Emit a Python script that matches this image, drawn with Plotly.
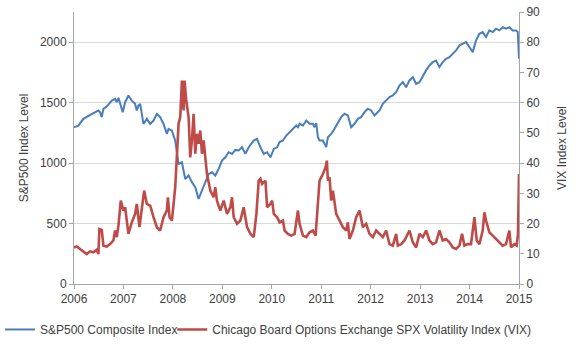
import plotly.graph_objects as go

# ---- data (decimal years as placed on the chart's time axis) ----
sp_years = [2006.000, 2006.088, 2006.189, 2006.291, 2006.392, 2006.493, 2006.527, 2006.561, 2006.595,
            2006.662, 2006.764, 2006.831, 2006.865, 2006.899, 2006.966, 2006.986, 2007.034, 2007.101,
            2007.169, 2007.236, 2007.270, 2007.304, 2007.338, 2007.405, 2007.473, 2007.541, 2007.608,
            2007.676, 2007.743, 2007.811, 2007.878, 2007.912, 2007.980, 2008.047, 2008.115, 2008.182,
            2008.250, 2008.318, 2008.385, 2008.453, 2008.520, 2008.588, 2008.655, 2008.723, 2008.791,
            2008.858, 2008.926, 2008.993, 2009.061, 2009.128, 2009.196, 2009.264, 2009.331, 2009.399,
            2009.466, 2009.534, 2009.635, 2009.703, 2009.770, 2009.838, 2009.905, 2009.973, 2010.041,
            2010.108,
            2010.158, 2010.226, 2010.293, 2010.360, 2010.428, 2010.495, 2010.529, 2010.562, 2010.630,
            2010.697, 2010.764, 2010.832, 2010.865, 2010.899, 2010.933, 2010.966, 2011.034, 2011.101,
            2011.135, 2011.202, 2011.269, 2011.337, 2011.404, 2011.471, 2011.539, 2011.606, 2011.673,
            2011.741, 2011.808, 2011.875, 2011.943, 2012.010, 2012.077, 2012.111, 2012.178, 2012.246,
            2012.313, 2012.380, 2012.448, 2012.515, 2012.582, 2012.650, 2012.717, 2012.785, 2012.852,
            2012.919, 2012.987, 2013.054, 2013.121, 2013.189, 2013.256, 2013.323, 2013.391, 2013.458,
            2013.525, 2013.593, 2013.660, 2013.727, 2013.795, 2013.862, 2013.929, 2013.997, 2014.064,
            2014.131, 2014.199, 2014.266, 2014.333, 2014.401, 2014.468, 2014.535, 2014.603, 2014.670,
            2014.737, 2014.805, 2014.872, 2014.939, 2014.975, 2015.000]
sp500 = [1297, 1310, 1366, 1393, 1413, 1435, 1421, 1380, 1449,
         1468, 1517, 1531, 1504, 1540, 1462, 1421, 1504, 1559,
         1517, 1490, 1435, 1476, 1490, 1324, 1366, 1324, 1352,
         1407, 1380, 1324, 1242, 1283, 1269, 1186, 993, 1007,
         869, 897, 842, 800, 704, 773, 828, 910, 924,
         897, 952, 1021, 1048, 1090, 1076, 1109, 1104, 1131,
         1076, 1131, 1186, 1200, 1131, 1076, 1090, 1048, 1117,
         1131,
         1174, 1187, 1228, 1256, 1284, 1311, 1297, 1325, 1311,
         1352, 1325, 1325, 1297, 1330, 1214, 1187, 1187, 1132,
         1214, 1242, 1284, 1339, 1380, 1408, 1394, 1297, 1325,
         1366, 1380, 1422, 1450, 1436, 1394, 1408, 1436, 1491,
         1518, 1546, 1560, 1587, 1642, 1670, 1628, 1684, 1711,
         1656, 1670, 1725, 1767, 1808, 1835, 1849, 1794, 1835,
         1863, 1877, 1905, 1932, 1974, 1988, 2001, 1960, 1918,
         2015, 2070, 2084, 2043, 2098, 2084, 2112, 2098, 2125,
         2112, 2125, 2098, 2098, 2084, 1863]

vix_years = [2006.000, 2006.054, 2006.122, 2006.189, 2006.257, 2006.324, 2006.392, 2006.459, 2006.493,
             2006.514, 2006.561, 2006.595, 2006.662, 2006.730, 2006.797, 2006.831, 2006.865, 2006.899,
             2006.946, 2007.000, 2007.034, 2007.101, 2007.169, 2007.236, 2007.270, 2007.324, 2007.372,
             2007.419, 2007.473, 2007.541, 2007.608, 2007.676, 2007.743, 2007.811, 2007.878, 2007.899,
             2007.932, 2007.980, 2008.047, 2008.081, 2008.115, 2008.149, 2008.182, 2008.216, 2008.236,
             2008.270, 2008.318, 2008.351, 2008.385, 2008.419, 2008.453, 2008.486, 2008.520, 2008.554,
             2008.588, 2008.622, 2008.689, 2008.757, 2008.824, 2008.858, 2008.892, 2008.959, 2009.027,
             2009.095, 2009.162, 2009.196, 2009.230, 2009.297, 2009.365, 2009.432, 2009.500, 2009.568,
             2009.635, 2009.689, 2009.736, 2009.770, 2009.804, 2009.872, 2009.905, 2009.973, 2010.007,
             2010.041, 2010.108,
             2010.158, 2010.226, 2010.259, 2010.327, 2010.394, 2010.461, 2010.529, 2010.562, 2010.630,
             2010.697, 2010.764, 2010.832, 2010.886, 2010.933, 2010.966, 2011.034, 2011.088, 2011.114,
             2011.135, 2011.168, 2011.202, 2011.236, 2011.303, 2011.370, 2011.438, 2011.505, 2011.539,
             2011.572, 2011.640, 2011.707, 2011.774, 2011.842, 2011.909, 2011.976, 2012.044, 2012.111,
             2012.178, 2012.246, 2012.313, 2012.380, 2012.448, 2012.515, 2012.549, 2012.616, 2012.684,
             2012.785, 2012.852, 2012.919, 2012.987, 2013.054, 2013.121, 2013.189, 2013.256, 2013.323,
             2013.391, 2013.458, 2013.525, 2013.593, 2013.660, 2013.727, 2013.795, 2013.848, 2013.896,
             2013.963, 2014.030, 2014.098, 2014.145, 2014.199, 2014.266, 2014.300, 2014.333, 2014.401,
             2014.468, 2014.535, 2014.603, 2014.670, 2014.737, 2014.805, 2014.838, 2014.906, 2014.953,
             2014.980, 2015.000]
vix = [12.1, 12.4, 11.6, 10.8, 9.9, 10.8, 10.5, 11.3, 9.9,
       18.2, 17.9, 12.7, 12.4, 13.2, 14.4, 17.7, 15.5, 19.3,
       27.6, 24.3, 25.4, 16.6, 20.4, 23.2, 26.5, 18.8, 24.3,
       30.9, 26.5, 25.9, 22.1, 18.8, 17.7, 22.1, 24.3, 28.7,
       22.1, 21.0, 32.0, 44.2, 53.0, 55.2, 67.3, 57.4, 67.3,
       60.7, 55.2, 41.9, 47.5, 56.3, 43.1, 49.7, 46.4, 50.8,
       43.1, 47.5, 36.4, 30.9, 28.7, 32.0, 27.6, 24.3, 27.6,
       23.2, 25.4, 28.7, 22.1, 19.9, 21.0, 25.4, 18.8, 16.6,
       15.5, 23.2, 34.2, 34.8, 33.1, 34.2, 25.4, 26.5, 27.6,
       23.2, 22.1,
       20.4, 21.0, 17.7, 16.6, 16.0, 16.6, 24.3, 19.9, 16.0,
       15.5, 17.1, 17.7, 16.0, 27.6, 34.2, 36.4, 38.6, 40.8,
       34.2, 35.3, 27.6, 30.9, 23.2, 21.0, 18.8, 17.7, 20.4,
       14.9, 17.7, 22.1, 24.3, 18.8, 19.9, 16.6, 15.5, 17.7,
       16.6, 15.5, 17.7, 13.2, 12.7, 16.6, 12.7, 13.2, 14.4,
       17.7, 13.8, 12.1, 16.6, 15.5, 17.7, 14.4, 13.2, 13.8,
       17.7, 14.4, 14.9, 13.8, 12.1, 11.6, 12.7, 16.6, 12.7,
       13.2, 13.2, 22.1, 14.4, 13.2, 17.7, 23.7, 21.0, 17.1,
       16.0, 14.9, 13.8, 12.7, 13.2, 17.7, 12.1, 13.2, 12.7,
       16.6, 36.4]

x_ticks = [2006, 2007, 2008, 2009, 2010, 2011, 2012, 2013, 2014, 2015]
left_ticks = [0, 500, 1000, 1500, 2000]
right_ticks = [0, 10, 20, 30, 40, 50, 60, 70, 80, 90]

BLUE = "#4A7EBB"
RED = "#BE4B48"
AXIS = "#A6A6A6"
TXT = "#404040"
FONT = "Liberation Sans, Arial, sans-serif"

fig = go.Figure()
fig.add_trace(go.Scatter(x=sp_years, y=sp500, mode="lines", name="S&P500 Composite Index",
                         line=dict(color=BLUE, width=2), yaxis="y", legend="legend"))
fig.add_trace(go.Scatter(x=vix_years, y=vix, mode="lines",
                         name="Chicago Board Options Exchange SPX Volatility Index (VIX)",
                         line=dict(color=RED, width=2.6), yaxis="y2", legend="legend2"))

leg_common = dict(orientation="h", xref="container", yref="container", y=0.045,
                  xanchor="left", yanchor="middle", font=dict(size=12, color=TXT),
                  itemwidth=30, bgcolor="rgba(0,0,0,0)", borderwidth=0)

fig.update_layout(
    width=578, height=345,
    margin=dict(l=74, r=59, t=12, b=61, autoexpand=False),
    paper_bgcolor="white", plot_bgcolor="white",
    font=dict(family=FONT, size=12, color=TXT),
    xaxis=dict(range=[2006, 2015], tickvals=x_ticks, ticktext=[str(t) for t in x_ticks],
               showgrid=False, showline=True, linecolor=AXIS, linewidth=1,
               ticks="outside", ticklen=4, tickcolor=AXIS, zeroline=False,
               tickfont=dict(size=12, color=TXT)),
    yaxis=dict(range=[0, 2250], tickvals=left_ticks, showgrid=True, gridcolor="#D9D9D9",
               gridwidth=1, showline=True, linecolor=AXIS, ticks="outside", ticklen=4,
               tickcolor=AXIS, zeroline=False,
               title=dict(text="S&P500 Index Level", font=dict(size=12, color=TXT), standoff=8),
               tickfont=dict(size=12, color=TXT)),
    yaxis2=dict(range=[0, 90], tickvals=right_ticks, overlaying="y", side="right",
                showgrid=False, showline=True, linecolor=AXIS, ticks="outside", ticklen=4,
                tickcolor=AXIS, zeroline=False,
                title=dict(text="VIX Index Level", font=dict(size=12, color=TXT), standoff=18),
                tickfont=dict(size=12, color=TXT)),
    showlegend=True,
    legend=dict(x=0.0, **leg_common),
    legend2=dict(x=0.298, **leg_common),
)

fig.write_html("out.html")
